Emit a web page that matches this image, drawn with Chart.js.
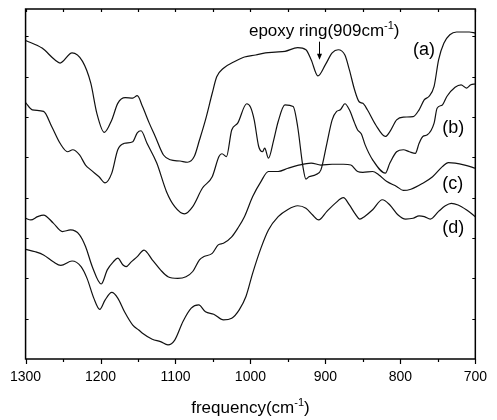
<!DOCTYPE html>
<html>
<head>
<meta charset="utf-8">
<script src="https://cdn.jsdelivr.net/npm/chart.js@4.4.1/dist/chart.umd.min.js"></script>
<style>
  body { margin: 0; background: #fff; }
  canvas { display: block; }
</style>
</head>
<body>
<canvas id="myChart-ftir" width="497" height="420"></canvas>
<script>
// wavenumbers (cm-1) and relative transmittance, top to bottom
const waveA = [1300,1278,1261,1254,1238,1224,1213,1205,1195,1185,1177,1167,1157,1151,1144,1135,1127,1116,1107,1094,1084,1075,1068,1060,1051,1045,1036,1021,1008,993,980,967,954,937,926,919,910,900,891,883,874,868,861,855,850,844,833,820,814,805,796,783,775,768,762,755,749,742,734,725,708,700];
const specA = [7.90,7.71,7.42,7.34,7.59,7.38,6.84,6.10,5.62,5.93,6.34,6.48,6.47,6.53,6.26,5.85,5.52,5.06,4.94,4.91,4.88,5.02,5.43,5.93,6.59,7.00,7.21,7.38,7.49,7.54,7.59,7.61,7.63,7.72,7.67,7.42,7.02,7.30,7.59,7.67,7.54,7.17,6.67,6.38,6.34,6.18,5.81,5.52,5.64,5.93,6.00,6.01,6.18,6.43,6.51,6.76,7.42,7.83,8.04,8.11,8.11,8.08];

const waveB = [1300,1291,1276,1265,1254,1244,1237,1228,1220,1213,1202,1194,1185,1177,1168,1157,1151,1146,1138,1125,1112,1101,1088,1077,1064,1051,1042,1038,1032,1025,1017,1005,1000,995,989,984,981,976,969,963,954,943,937,930,926,922,913,906,898,891,885,880,874,868,861,857,852,847,837,820,814,805,796,788,780,775,770,764,755,751,744,738,727,719,712,706,700];
const specB = [6.36,6.18,6.14,5.76,5.35,5.14,5.19,5.06,4.81,4.69,4.52,4.37,4.61,5.19,5.35,5.39,5.61,5.66,5.35,4.86,4.15,3.78,3.60,3.78,4.24,4.52,5.02,5.09,5.02,5.68,5.85,6.33,6.25,5.93,5.27,5.14,5.23,4.98,5.43,5.89,6.30,6.26,5.76,4.77,4.46,4.52,4.57,4.69,5.35,5.93,6.14,6.18,6.33,6.18,5.85,5.68,5.58,5.31,4.94,4.61,4.86,5.14,5.19,5.14,5.10,5.35,5.52,5.56,5.85,6.22,6.30,6.51,6.74,6.80,6.72,6.80,6.82];

const waveC = [1300,1293,1284,1276,1263,1251,1240,1228,1220,1211,1199,1191,1183,1177,1170,1166,1159,1151,1142,1131,1120,1110,1097,1086,1077,1068,1062,1051,1043,1036,1025,1017,1008,997,986,976,963,950,937,919,906,891,876,866,857,850,837,829,818,805,796,786,770,757,744,736,727,714,700];
const specC = [3.49,3.45,3.53,3.57,3.37,3.16,3.20,3.08,2.79,2.29,1.86,2.21,2.41,2.50,2.33,2.29,2.41,2.54,2.70,2.46,2.21,2.04,2.00,2.04,2.17,2.46,2.54,2.62,2.83,2.87,3.03,3.24,3.53,4.03,4.40,4.65,4.65,4.73,4.80,4.86,4.81,4.83,4.83,4.81,4.65,4.63,4.65,4.57,4.40,4.28,4.18,4.21,4.36,4.52,4.77,4.87,4.86,4.81,4.73];

const waveD = [1300,1287,1276,1263,1253,1238,1226,1218,1209,1201,1194,1185,1177,1168,1157,1149,1144,1131,1120,1110,1101,1090,1079,1069,1060,1049,1036,1025,1015,1006,997,986,976,963,950,937,926,917,909,898,887,876,868,861,854,848,837,824,814,803,793,783,775,768,760,749,740,732,723,712,700];
const specD = [2.72,2.66,2.58,2.41,2.32,2.43,2.29,2.00,1.51,1.23,1.46,1.65,1.51,1.17,0.84,0.72,0.64,0.49,0.43,0.35,0.47,0.93,1.26,1.34,1.17,1.11,0.97,1.01,1.22,1.55,2.13,2.75,3.20,3.53,3.71,3.80,3.74,3.57,3.45,3.66,3.86,4.00,3.82,3.62,3.47,3.53,3.70,3.95,3.82,3.57,3.47,3.49,3.55,3.53,3.47,3.66,3.80,3.86,3.82,3.70,3.53];

const curveLabels = ['(a)', '(b)', '(c)', '(d)'];
// where each curve label sits: [wavenumber of left edge, value at text middle]
const labelAnchors = [[783, 7.67], [744, 5.72], [744, 4.34], [744, 3.25]];
const epoxyPeak = 909;

const FONT = "'Liberation Sans', Arial, Helvetica, sans-serif";

const toPoints = (xs, ys) => xs.map((x, i) => ({ x: x, y: ys[i] }));

const makeSet = (label, xs, ys) => ({
    label: label,
    data: toPoints(xs, ys),
    borderColor: '#111',
    borderWidth: 1.2,
    pointRadius: 0,
    fill: false,
    cubicInterpolationMode: 'monotone'
});

// text with a small raised part, e.g. cm^-1
const drawSupText = (ctx, parts, x, y, align) => {
    let total = 0;
    parts.forEach(p => {
        ctx.font = p.size + 'px ' + FONT;
        p.w = ctx.measureText(p.t).width;
        total += p.w;
    });
    let cx = align === 'center' ? x - total / 2 : x;
    ctx.textBaseline = 'alphabetic';
    ctx.textAlign = 'left';
    parts.forEach(p => {
        ctx.font = p.size + 'px ' + FONT;
        ctx.fillText(p.t, cx, y - (p.up || 0));
        cx += p.w;
    });
};

const framePlugin = {
    id: 'frame',
    afterDraw(chart) {
        const ctx = chart.ctx;
        const area = chart.chartArea;
        const xs = chart.scales.x;
        const ys = chart.scales.y;
        ctx.save();
        ctx.strokeStyle = '#000';
        ctx.fillStyle = '#000';
        ctx.lineWidth = 1.5;
        ctx.strokeRect(area.left, area.top, area.right - area.left, area.bottom - area.top);

        ctx.lineWidth = 1.2;
        ctx.beginPath();
        for (let v = 700; v <= 1300; v += 50) {
            const px = Math.round(xs.getPixelForValue(v)) + 0.5;
            const major = v % 100 === 0;
            ctx.moveTo(px, area.bottom);
            ctx.lineTo(px, area.bottom + (major ? 5 : 3));
            ctx.moveTo(px, area.top);
            ctx.lineTo(px, area.top + 3);
        }
        for (let v = 1; v <= 8; v++) {
            const py = Math.round(ys.getPixelForValue(v)) + 0.5;
            ctx.moveTo(area.left, py);
            ctx.lineTo(area.left + 3, py);
            ctx.moveTo(area.right, py);
            ctx.lineTo(area.right - 3, py);
        }
        ctx.stroke();

        // curve labels
        ctx.font = '18px ' + FONT;
        ctx.textAlign = 'left';
        ctx.textBaseline = 'middle';
        curveLabels.forEach((t, i) => {
            ctx.fillText(t, xs.getPixelForValue(labelAnchors[i][0]), ys.getPixelForValue(labelAnchors[i][1]));
        });

        // epoxy ring note and arrow
        drawSupText(ctx, [
            { t: 'epoxy ring(909cm', size: 17 },
            { t: '-1', size: 11, up: 7 },
            { t: ')', size: 17 }
        ], xs.getPixelForValue(1002), ys.getPixelForValue(8.02), 'left');

        const ax = Math.round(xs.getPixelForValue(epoxyPeak)) + 0.5;
        const aTop = ys.getPixelForValue(7.87);
        const aTip = ys.getPixelForValue(7.42);
        ctx.lineWidth = 1;
        ctx.beginPath();
        ctx.moveTo(ax, aTop);
        ctx.lineTo(ax, aTip - 3);
        ctx.stroke();
        ctx.beginPath();
        ctx.moveTo(ax - 2.5, aTip - 6);
        ctx.lineTo(ax + 2.5, aTip - 6);
        ctx.lineTo(ax, aTip);
        ctx.closePath();
        ctx.fill();

        // x axis title
        drawSupText(ctx, [
            { t: 'frequency(cm', size: 17 },
            { t: '-1', size: 11, up: 7 },
            { t: ')', size: 17 }
        ], (area.left + area.right) / 2, area.bottom + 54, 'center');
        ctx.restore();
    }
};

const config = {
    type: 'line',
    data: {
        datasets: [
            makeSet('(a)', waveA, specA),
            makeSet('(b)', waveB, specB),
            makeSet('(c)', waveC, specC),
            makeSet('(d)', waveD, specD)
        ]
    },
    options: {
        responsive: false,
        animation: false,
        devicePixelRatio: 1,
        layout: { padding: { left: 23, right: 11, top: 9, bottom: 0 } },
        plugins: {
            legend: { display: false },
            tooltip: { enabled: false }
        },
        scales: {
            x: {
                type: 'linear',
                reverse: true,
                min: 700,
                max: 1300,
                grid: { display: false, drawTicks: false },
                border: { display: false },
                ticks: {
                    stepSize: 100,
                    padding: 10,
                    color: '#000',
                    font: { family: FONT, size: 14 },
                    callback: (v) => String(v)
                },
                afterFit: (scale) => { scale.height = 61; }
            },
            y: {
                display: false,
                min: 0,
                max: 8.68
            }
        }
    },
    plugins: [framePlugin]
};

document.addEventListener('DOMContentLoaded', () => {
    const ctx = document.getElementById('myChart-ftir').getContext('2d');
    new Chart(ctx, config);
});
</script>
</body>
</html>
